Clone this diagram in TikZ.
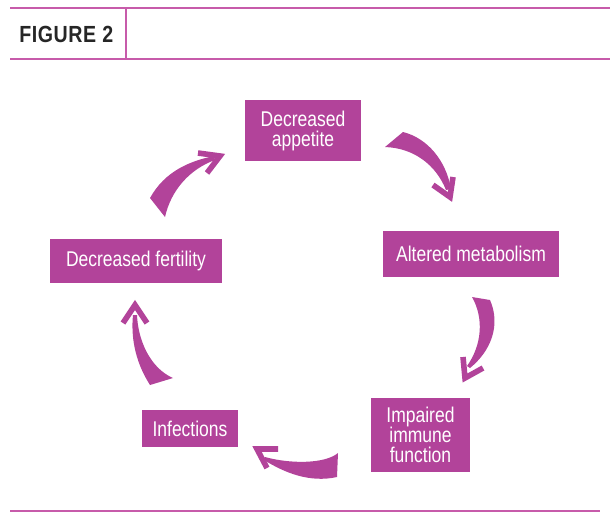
\documentclass[tikz,border=0pt]{standalone}
\usepackage{fontspec}
\setmainfont{Liberation Sans}[FakeStretch=0.82]
\newfontfamily\headfont{Liberation Sans}[FakeStretch=0.84, LetterSpace=2.5]
\definecolor{plum}{HTML}{B2439A}
\definecolor{rule}{HTML}{C75BAA}
\begin{document}
\begin{tikzpicture}[
x=0.75pt, y=-0.75pt, % pixel grid, y downwards
box/.style={fill=plum, text=white, align=center, inner sep=0pt,
  font=\fontsize{16}{15}\selectfont},
swoosh/.style={fill=plum},
chev/.style={draw=plum, line width=4.2pt, miter limit=10}
]
\useasboundingbox (0,0) rectangle (610,519);

% --- Header ---
\draw[rule, line width=1.2pt] (10,8) -- (610,8);
\draw[rule, line width=1.2pt] (10,59) -- (610,59);
\draw[rule, line width=1.2pt] (126,8) -- (126,59);
\node[anchor=west, inner sep=0pt, text=black!85, font=\headfont\bfseries\fontsize{17.5}{18}\selectfont] (title) at (19,34) {FIGURE 2};
\draw[rule, line width=1.2pt] (10,511) -- (600,511);

% --- Boxes ---
\node[box, minimum width=87pt, minimum height=45.75pt] (appetite) at (303,130.5) {Decreased\\appetite};
\node[box, minimum width=132pt, minimum height=34.5pt] (metab) at (471,254) {Altered metabolism};
\node[box, minimum width=74.25pt, minimum height=55.5pt] (immune) at (420.5,435) {Impaired\\immune\\function};
\node[box, minimum width=72pt, minimum height=27.75pt] (infect) at (190,428.5) {Infections};
\node[box, minimum width=129pt, minimum height=33pt] (fertil) at (136,261) {Decreased fertility};

% --- Arrows ---
% appetite -> metabolism
\fill[swoosh] (385,147) -- (403,132) .. controls (427,138) and (446,160) .. (451,189)
  -- (446,190) .. controls (436,165) and (414,148) .. (385,147) -- cycle;
\draw[chev] (433,185) -- (450,197) -- (453,177);

% metabolism -> immune
\fill[swoosh] (472,297) -- (490,300) .. controls (501,325) and (491,351) .. (470,368)
  -- (467,366) .. controls (482,345) and (484,318) .. (472,297) -- cycle;
\draw[chev] (463,357) -- (465,378) -- (483,368);

% immune -> infections
\fill[swoosh] (338,453) -- (337,477) .. controls (310,483) and (285,473) .. (264,460)
  -- (265,457) .. controls (290,464) and (325,464) .. (338,453) -- cycle;
\draw[chev] (278,449) -- (257,449) -- (267,468);

% infections -> fertility
\fill[swoosh] (173,378) -- (150,385) .. controls (134,360) and (131,335) .. (133,315)
  -- (137,315) .. controls (138,340) and (150,368) .. (173,378) -- cycle;
\draw[chev] (123,323) -- (135,305) -- (147,323);

% fertility -> appetite
\fill[swoosh] (150,198) .. controls (165,171) and (190,161) .. (214,156)
  -- (215,160) .. controls (190,169) and (171,190) .. (165,217) -- cycle;
\draw[chev] (198,153) -- (220,156) -- (207,173);

\end{tikzpicture}
\end{document}
